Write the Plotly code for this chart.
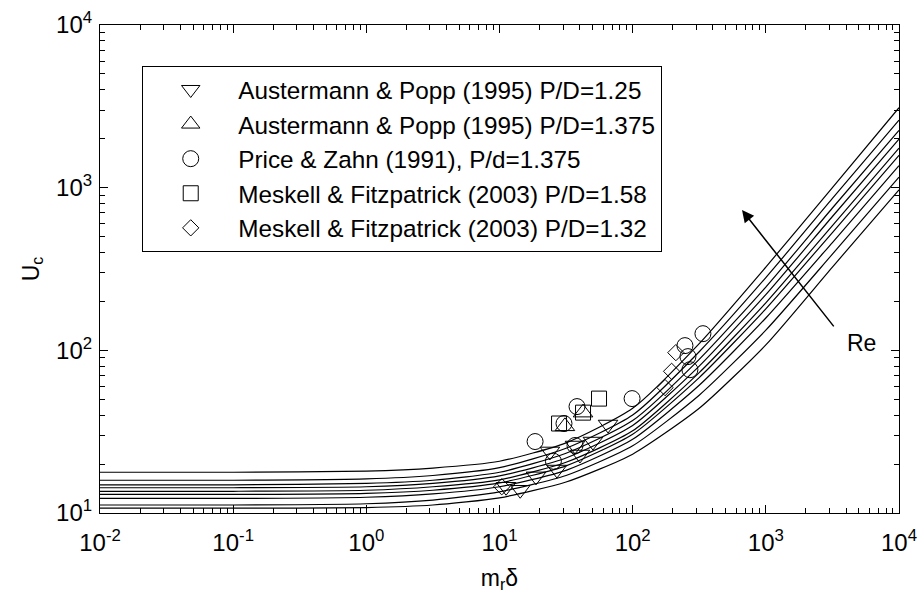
import plotly.graph_objects as go

# ---- curve data (U_c vs m_r*delta for increasing Re) ----
curve_x = [0.01, 0.1, 1, 3.16, 10, 31.6, 100, 316, 1000, 3162, 10000]
curve_1 = [17.8, 17.8, 18.1, 18.9, 20.8, 27.0, 44.0, 110, 325, 1000, 3100]
curve_2 = [15.9, 15.9, 16.2, 17.0, 19.0, 25.0, 40.0, 98, 280, 860, 2600]
curve_3 = [14.9, 14.9, 15.2, 15.9, 17.8, 23.3, 37.0, 88, 245, 750, 2250]
curve_4 = [14.3, 14.3, 14.5, 15.2, 16.9, 21.8, 34.5, 80, 220, 665, 1990]
curve_5 = [13.6, 13.6, 13.8, 14.5, 16.0, 20.5, 32.0, 73, 196, 585, 1750]
curve_6 = [13.0, 13.0, 13.2, 13.8, 15.3, 19.5, 30.5, 68, 180, 530, 1580]
curve_7 = [12.3, 12.3, 12.5, 13.1, 14.5, 18.3, 28.4, 61, 158, 460, 1365]
curve_8 = [11.2, 11.2, 11.4, 12.0, 13.5, 17.0, 25.9, 53, 133, 390, 1160]
curve_9 = [10.7, 10.7, 10.8, 11.2, 12.4, 15.5, 23.0, 44, 108, 325, 970]
curves = [curve_1, curve_2, curve_3, curve_4, curve_5, curve_6, curve_7, curve_8, curve_9]

# ---- experimental data ----
ap125_x = [11.2, 14.3, 18.8, 23.9, 27.0, 36.9, 40.2, 50.3, 65.3]
ap125_y = [14.5, 13.9, 16.8, 23.9, 18.5, 26.0, 22.9, 27.5, 35.0]

ap1375_x = [31.0, 42.4]
ap1375_y = [34.1, 41.4]

pz_x = [18.5, 25.4, 30.5, 38.2, 36.9, 99, 247, 260, 269, 337]
pz_y = [27.5, 20.8, 35.5, 45.1, 26.0, 50.5, 106.9, 91.5, 76.0, 126.6]

mf158_x = [28.0, 42.4, 55.9]
mf158_y = [35.5, 41.4, 50.5]

mf132_x = [10.4, 175, 196, 211]
mf132_y = [14.5, 59.0, 74.3, 96.8]

legend_names = [
    "Austermann & Popp (1995) P/D=1.25",
    "Austermann & Popp (1995) P/D=1.375",
    "Price & Zahn (1991), P/d=1.375",
    "Meskell & Fitzpatrick (2003) P/D=1.58",
    "Meskell & Fitzpatrick (2003) P/D=1.32",
]

x_tickvals = [0.01, 0.1, 1, 10, 100, 1000, 10000]
x_ticktext = ["10<sup>-2</sup>", "10<sup>-1</sup>", "10<sup>0</sup>", "10<sup>1</sup>",
              "10<sup>2</sup>", "10<sup>3</sup>", "10<sup>4</sup>"]
y_tickvals = [10, 100, 1000, 10000]
y_ticktext = ["10<sup>1</sup>", "10<sup>2</sup>", "10<sup>3</sup>", "10<sup>4</sup>"]

fig = go.Figure()

for c in curves:
    fig.add_trace(go.Scatter(x=curve_x, y=c, mode="lines",
                             line=dict(color="black", width=1.2, shape="spline", smoothing=0.6),
                             showlegend=False, hoverinfo="skip"))

marker_line = dict(color="black", width=1)
series = [
    (ap125_x, ap125_y, "triangle-down-open", 17),
    (ap1375_x, ap1375_y, "triangle-up-open", 17),
    (pz_x, pz_y, "circle-open", 16),
    (mf158_x, mf158_y, "square-open", 15),
    (mf132_x, mf132_y, "diamond-open", 12.5),
]
for (sx, sy, sym, sz), name in zip(series, legend_names):
    fig.add_trace(go.Scatter(x=sx, y=sy, mode="markers", name=name,
                             marker=dict(symbol=sym, size=sz, color="black", line=marker_line)))

minor_x = [k * 10.0 ** n for n in range(-2, 4) for k in range(2, 10)]
minor_y = [k * 10.0 ** n for n in range(1, 4) for k in range(2, 10)]

axis_common = dict(showgrid=False, zeroline=False, showline=True, linecolor="black", linewidth=1.2,
                   mirror="allticks", ticks="inside", ticklen=8, tickcolor="black", tickwidth=1,
                   tickfont=dict(size=24, color="black"), automargin=False)

fig.update_xaxes(type="log", range=[-2, 4], tickmode="array", tickvals=x_tickvals, ticktext=x_ticktext,
                 minor=dict(tickmode="array", tickvals=minor_x, ticks="inside", ticklen=5, tickcolor="black"),
                 ticklabelstandoff=8,
                 title=dict(text="m<sub>r</sub>δ", font=dict(size=23, color="black"), standoff=14),
                 **axis_common)
fig.update_yaxes(type="log", range=[1, 4], tickmode="array", tickvals=y_tickvals, ticktext=y_ticktext,
                 minor=dict(tickmode="array", tickvals=minor_y, ticks="inside", ticklen=5, tickcolor="black"),
                 ticklabelstandoff=2,
                 title=dict(text="U<sub>c</sub>", font=dict(size=23, color="black"), standoff=10),
                 **axis_common)

# Re arrow
fig.add_annotation(x=2.821, y=2.862, ax=3.519, ay=2.138, xref="x", yref="y", axref="x", ayref="y",
                   text="", showarrow=True, arrowhead=2, arrowsize=1.6, arrowwidth=1.5, arrowcolor="black")
fig.add_annotation(x=3.72, y=2.045, xref="x", yref="y", text="Re", showarrow=False,
                   font=dict(size=23, color="black"))

fig.update_layout(
    width=920, height=599,
    margin=dict(l=100, r=21, t=25, b=86),
    paper_bgcolor="white", plot_bgcolor="white",
    font=dict(family="Liberation Sans, Arial, sans-serif", color="black"),
    legend=dict(x=0.0526, y=0.916, xanchor="left", yanchor="top", bordercolor="black", borderwidth=1.2,
                bgcolor="white", font=dict(size=24.3, color="black"), itemwidth=85, tracegroupgap=0),
)

fig.write_html("out.html")
